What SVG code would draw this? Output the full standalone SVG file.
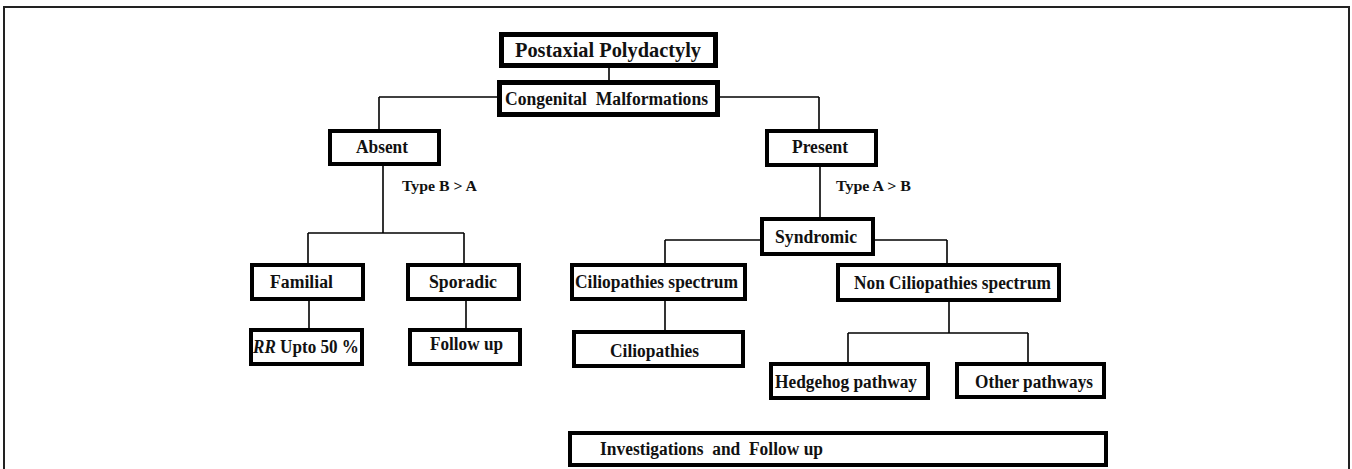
<svg xmlns="http://www.w3.org/2000/svg" width="1352" height="469" viewBox="0 0 1352 469">
<style>
.box{fill:#fff;stroke:#000;stroke-width:4}
.big{stroke-width:5}
.t{font-family:"Liberation Serif","Times New Roman",serif;font-weight:bold;font-size:18px;fill:#111;white-space:pre}
.s{font-size:15px}
.conn line{stroke:#000;stroke-width:1.6}
.frame{stroke:#222;stroke-width:2;fill:none}
</style>
<rect width="1352" height="469" fill="#fff"/>
<path class="frame" d="M4,469 V7 H1349 V469"/>
<g class="conn">
<line x1="609" y1="68" x2="609" y2="80"/>
<line x1="379" y1="97" x2="497" y2="97"/>
<line x1="379" y1="97" x2="379" y2="129"/>
<line x1="720" y1="97" x2="819" y2="97"/>
<line x1="819" y1="97" x2="819" y2="129"/>
<line x1="383" y1="166" x2="383" y2="233"/>
<line x1="308" y1="233" x2="464" y2="233"/>
<line x1="308" y1="233" x2="308" y2="263"/>
<line x1="464" y1="233" x2="464" y2="263"/>
<line x1="309" y1="301" x2="309" y2="328"/>
<line x1="466" y1="301" x2="466" y2="328"/>
<line x1="820" y1="167" x2="820" y2="217"/>
<line x1="665" y1="240" x2="760" y2="240"/>
<line x1="665" y1="240" x2="665" y2="263"/>
<line x1="875" y1="240" x2="947" y2="240"/>
<line x1="947" y1="240" x2="947" y2="263"/>
<line x1="665" y1="301" x2="665" y2="330"/>
<line x1="949" y1="302" x2="949" y2="333"/>
<line x1="848" y1="333" x2="1028" y2="333"/>
<line x1="848" y1="333" x2="848" y2="362"/>
<line x1="1028" y1="333" x2="1028" y2="362"/>
</g>
<g id="postaxial"><rect class="box big" x="501.5" y="34.5" width="214" height="31"/><text class="t" x="515" y="57" textLength="186" lengthAdjust="spacingAndGlyphs" style="font-size:21px">Postaxial Polydactyly</text></g>
<g id="congenital"><rect class="box big" x="499.5" y="82.5" width="218" height="32"/><text class="t" x="505" y="105" textLength="203" lengthAdjust="spacingAndGlyphs">Congenital  Malformations</text></g>
<g id="absent"><rect class="box" x="330" y="131" width="109" height="33"/><text class="t" x="356" y="153" textLength="52" lengthAdjust="spacingAndGlyphs">Absent</text></g>
<g id="present"><rect class="box" x="767" y="131" width="109" height="34"/><text class="t" x="792" y="153" textLength="56" lengthAdjust="spacingAndGlyphs">Present</text></g>
<text class="t s" x="402" y="191" textLength="75" lengthAdjust="spacingAndGlyphs">Type B &gt; A</text>
<text class="t s" x="836" y="191" textLength="75" lengthAdjust="spacingAndGlyphs">Type A &gt; B</text>
<g id="familial"><rect class="box" x="252" y="265" width="111" height="34"/><text class="t" x="270" y="288" textLength="63" lengthAdjust="spacingAndGlyphs">Familial</text></g>
<g id="sporadic"><rect class="box" x="408" y="265" width="111" height="34"/><text class="t" x="429" y="288" textLength="68" lengthAdjust="spacingAndGlyphs">Sporadic</text></g>
<g id="rr"><rect class="box" x="251" y="330" width="111" height="34"/><text class="t" x="253" y="353" textLength="106" lengthAdjust="spacingAndGlyphs"><tspan font-style="italic">RR</tspan> Upto 50 %</text></g>
<g id="followup"><rect class="box" x="410" y="330" width="110" height="34"/><text class="t" x="430" y="350" textLength="73" lengthAdjust="spacingAndGlyphs">Follow up</text></g>
<g id="syndromic"><rect class="box" x="762" y="219" width="111" height="35"/><text class="t" x="775" y="243" textLength="82" lengthAdjust="spacingAndGlyphs">Syndromic</text></g>
<g id="ciliospec"><rect class="box" x="572" y="265" width="173" height="34"/><text class="t" x="575" y="288" textLength="163" lengthAdjust="spacingAndGlyphs">Ciliopathies spectrum</text></g>
<g id="nonciliospec"><rect class="box" x="838" y="265" width="221" height="35"/><text class="t" x="854" y="289" textLength="197" lengthAdjust="spacingAndGlyphs">Non Ciliopathies spectrum</text></g>
<g id="ciliopathies"><rect class="box" x="574" y="332" width="169" height="34"/><text class="t" x="610" y="357" textLength="89" lengthAdjust="spacingAndGlyphs">Ciliopathies</text></g>
<g id="hedgehog"><rect class="box" x="771" y="364" width="157" height="34"/><text class="t" x="775" y="388" textLength="142" lengthAdjust="spacingAndGlyphs">Hedgehog pathway</text></g>
<g id="other"><rect class="box" x="957" y="364" width="147" height="33"/><text class="t" x="975" y="388" textLength="118" lengthAdjust="spacingAndGlyphs">Other pathways</text></g>
<g id="investigations"><rect class="box" x="570" y="433" width="536" height="32"/><text class="t" x="600" y="455" textLength="223" lengthAdjust="spacingAndGlyphs">Investigations  and  Follow up</text></g>
</svg>
